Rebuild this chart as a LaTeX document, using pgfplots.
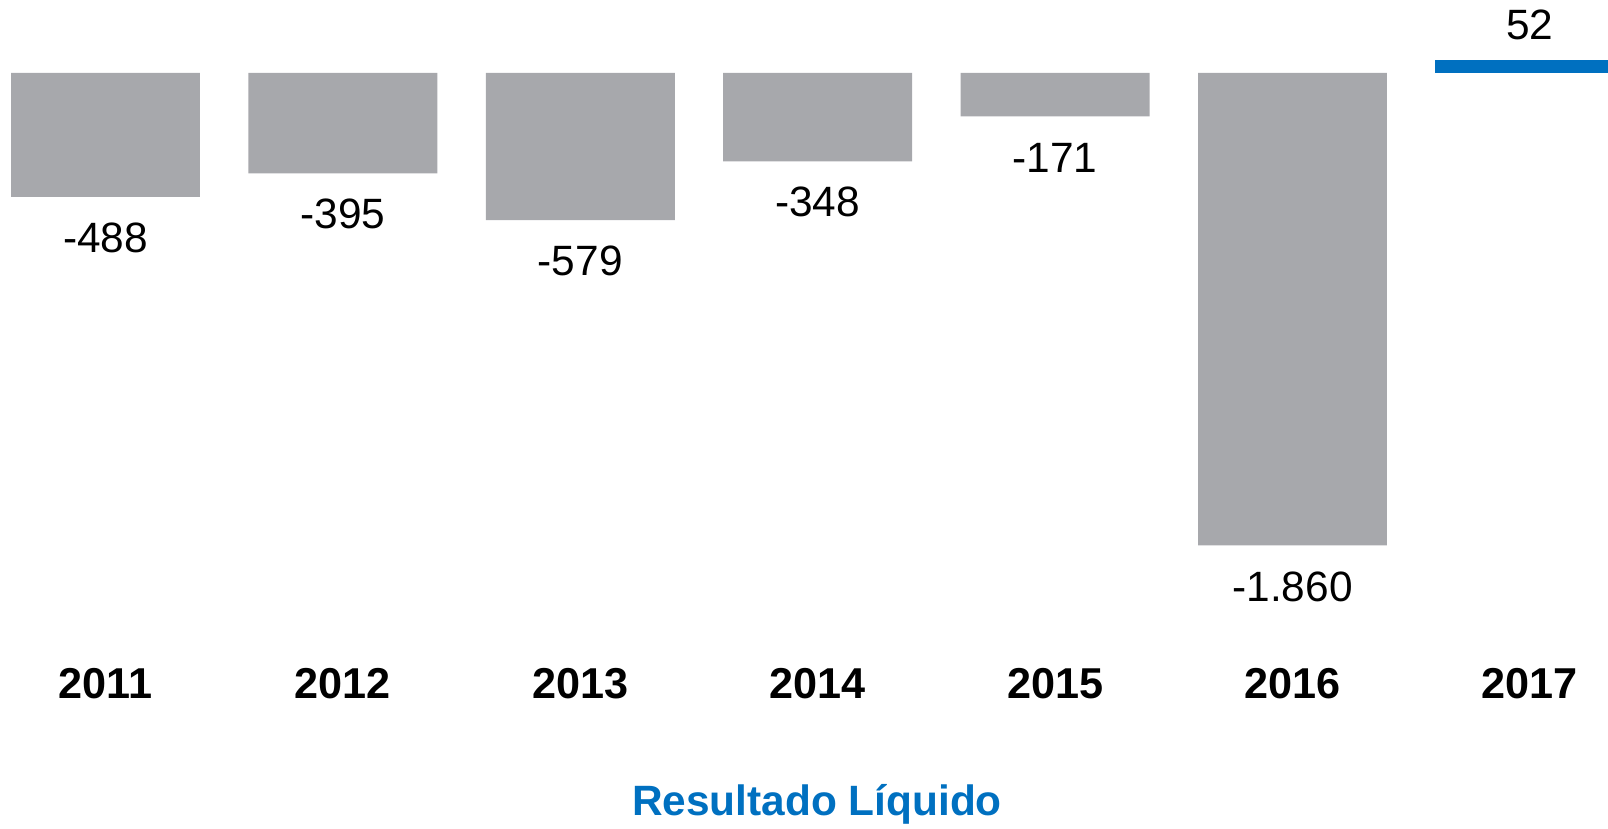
\documentclass[border=0pt]{standalone}
\usepackage{pgfplots}
\pgfplotsset{compat=1.18}
\usepackage{fontspec}
\setmainfont{Liberation Sans}
\definecolor{bargray}{HTML}{A7A8AC}
\definecolor{barblue}{HTML}{0070C0}
\tikzset{yearlbl/.style={font=\fontsize{21.6}{25}\selectfont\bfseries}}
\begin{document}
\begin{tikzpicture}
\begin{axis}[
  scale only axis,
  width=804pt, height=414.5pt,
  xmin=-0.4444, xmax=6.329,
  ymin=-2976, ymax=287.4,
  axis line style={draw=none},
  xtick=\empty, ytick=\empty,
  ybar, bar width=0.796, bar shift=0pt,
  point meta=y,
  nodes near coords,
  nodes near coords style={font=\fontsize{21.2}{25}\selectfont, anchor=center,
    /pgf/number format/fixed, /pgf/number format/precision=0,
    /pgf/number format/1000 sep={.}, /pgf/number format/assume math mode=true},
]
\addplot[fill=bargray, draw=none,
  every node near coord/.append style={yshift=-20.5pt}]
  coordinates {(0,-488) (1,-395) (2,-579) (3,-348) (4,-171) (5,-1860)};
\addplot[fill=barblue, draw=none,
  every node near coord/.append style={yshift=17.5pt}]
  coordinates {(6,52)};
\node[yearlbl] at (axis cs:0,-2405) {2011};
\node[yearlbl] at (axis cs:1,-2405) {2012};
\node[yearlbl] at (axis cs:2,-2405) {2013};
\node[yearlbl] at (axis cs:3,-2405) {2014};
\node[yearlbl] at (axis cs:4,-2405) {2015};
\node[yearlbl] at (axis cs:5,-2405) {2016};
\node[yearlbl] at (axis cs:6,-2405) {2017};
\node[font=\fontsize{21.2}{25}\selectfont\bfseries, text=barblue] at (axis cs:2.997,-2880) {Resultado Líquido};
\end{axis}
\end{tikzpicture}
\end{document}
